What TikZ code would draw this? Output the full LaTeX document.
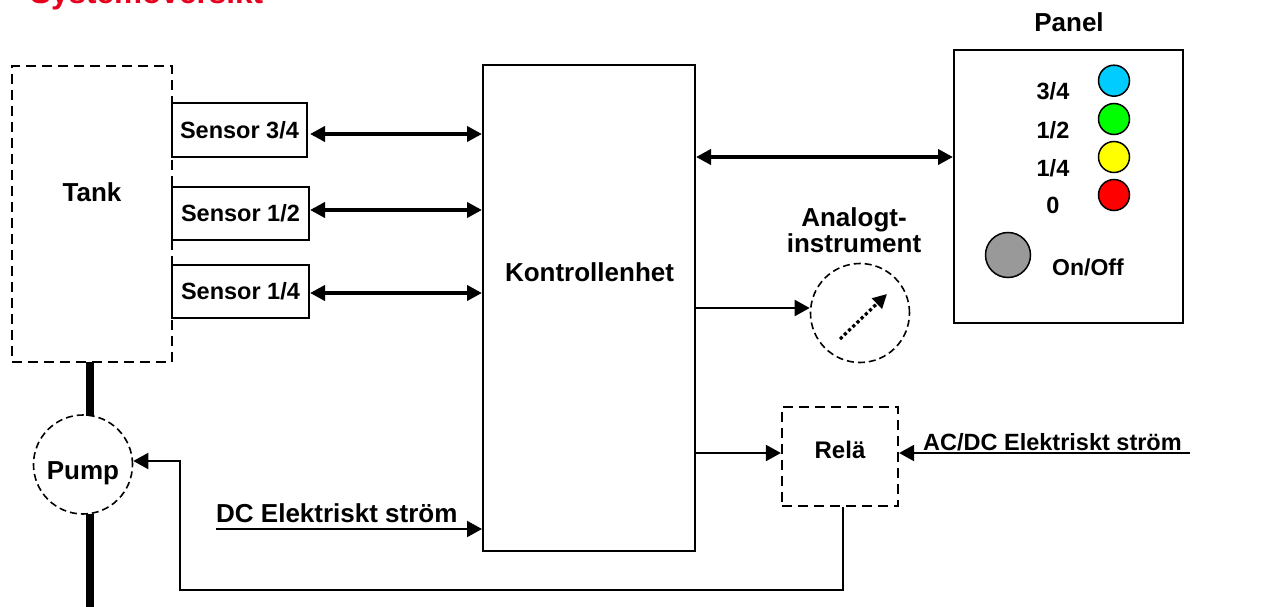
\documentclass[tikz,border=0pt]{standalone}
\usepackage{fontspec}
\setmainfont{Liberation Sans}
\usetikzlibrary{arrows.meta,calc}
\definecolor{titlered}{RGB}{230,0,30}
\definecolor{ledcyan}{RGB}{0,204,255}
\definecolor{ledgreen}{RGB}{0,255,0}
\definecolor{ledyellow}{RGB}{255,255,0}
\definecolor{ledred}{RGB}{255,0,0}
\definecolor{ledgray}{RGB}{153,153,153}
\newcommand\fntbig{\bfseries\fontsize{26}{28}\selectfont}
\newcommand\fntmid{\bfseries\fontsize{23.5}{26}\selectfont}
\begin{document}
\begin{tikzpicture}[x=1pt,y=-1pt,
  box/.style={draw, line width=2pt, inner sep=0pt},
  dbox/.style={draw, line width=2.2pt, dash pattern=on 10pt off 6pt, inner sep=0pt},
  dcirc/.style={draw, circle, line width=1.6pt, dash pattern=on 7pt off 4pt, inner sep=0pt},
  txt/.style={inner sep=0pt, anchor=base, font=\fntbig},
  led/.style={draw, circle, line width=1.5pt, minimum size=31pt, inner sep=0pt},
  dblarrow/.style={line width=3.8pt, {Triangle[length=15pt,width=15pt]}-{Triangle[length=15pt,width=15pt]}},
  onearrow/.style={line width=2pt, -{Triangle[length=15pt,width=16pt]}},
  pipe/.style={line width=8pt},
]
\useasboundingbox (0,0) rectangle (1267,607);

% title (cut at top)
\node[txt, anchor=base west, text=titlered, font=\bfseries\fontsize{31.5}{34}\selectfont] (title) at (30,4) {Systemöversikt};

% tank and sensors
\node[box, minimum width=135pt, minimum height=54pt, font=\fntmid] (s34) at (239.5,130) {Sensor 3/4};
\node[box, minimum width=137pt, minimum height=53pt, font=\fntmid] (s12) at (240.5,213.5) {Sensor 1/2};
\node[box, minimum width=137pt, minimum height=53pt, font=\fntmid] (s14) at (240.5,291.5) {Sensor 1/4};
\node[dbox, minimum width=160pt, minimum height=296pt] (tank) at (92,214) {};
\node[txt] (tanklbl) at (92,201) {Tank};

% controller
\node[box, minimum width=212pt, minimum height=486pt] (ctrl) at (589,308) {};
\node[txt] (ctrllbl) at (589.5,281) {Kontrollenhet};

% sensor arrows
\draw[dblarrow] ([xshift=2pt]s34.east |- 0,134) -- (ctrl.west |- 0,134);
\draw[dblarrow] (s12.east |- 0,210) -- (ctrl.west |- 0,210);
\draw[dblarrow] (s14.east |- 0,293) -- (ctrl.west |- 0,293);

% panel
\node[box, minimum width=229pt, minimum height=273pt] (panel) at (1068.5,186.5) {};
\node[txt] (paneltitle) at (1069,32) {Panel};
\node[led, fill=ledcyan] (l34) at (1114,80.7) {};
\node[led, fill=ledgreen] (l12) at (1114,119) {};
\node[led, fill=ledyellow] (l14) at (1114,157) {};
\node[led, fill=ledred] (l0) at (1114,195) {};
\node[txt, font=\fntmid] (t34) at (1053,100) {3/4};
\node[txt, font=\fntmid] (t12) at (1053,138.3) {1/2};
\node[txt, font=\fntmid] (t14) at (1053,176.7) {1/4};
\node[txt, font=\fntmid] (t0) at (1053,213.3) {0};
\node[led, minimum size=45pt, fill=ledgray] (onoff) at (1008,255) {};
\node[txt, font=\bfseries\fontsize{23}{26}\selectfont] (onofflbl) at (1088,275) {On/Off};
\draw[dblarrow] (ctrl.east |- 0,157) -- (panel.west |- 0,157);

% analog instrument
\node[dcirc, minimum size=99pt] (inst) at (860,313) {};
\node[txt] (instl1) at (854,226) {Analogt-};
\node[txt] (instl2) at (854,252.7) {instrument};
\draw[line width=3.2pt, dash pattern=on 3.2pt off 2.6pt, -{Triangle[length=14pt,width=14pt]}]
  ($(inst.center)+(-20,26)$) -- ($(inst.center)+(27,-19)$);
\draw[onearrow] (ctrl.east) -- (ctrl.east -| inst.west);

% relay
\node[dbox, minimum width=116pt, minimum height=99pt] (relay) at (840,456.5) {};
\node[txt, font=\bfseries\fontsize{24}{26}\selectfont] (relaylbl) at (840,458) {Relä};
\draw[onearrow] (ctrl.east |- 0,453) -- (relay.west |- 0,453);
\coordinate (acin) at (1190,453);
\draw[onearrow] (acin) -- (relay.east |- acin);
\node[txt, anchor=base west, font=\fntmid] (aclbl) at (923,450.5) {AC/DC Elektriskt ström};

% pump
\node[dcirc, minimum size=99pt] (pump) at (83,464.5) {};
\node[txt] (pumplbl) at (83,479) {Pump};
\coordinate (pA) at (89.5,362);
\coordinate (pB) at (89.5,415.5);
\coordinate (pC) at (89.5,513.5);
\coordinate (pD) at (89.5,607);
\draw[pipe] (pA) -- (pB);
\draw[pipe] (pC) -- (pD);

% relay to pump
\coordinate (c1) at (843,590);
\coordinate (c2) at (180,590);
\coordinate (c3) at (180,461);
\draw[onearrow] ([xshift=3pt]relay.south) -- (c1) -- (c2) -- (c3) -- (c3 -| pump.east);

% DC supply
\coordinate (dcin) at (216,529);
\draw[onearrow] (dcin) -- (ctrl.west |- dcin);
\node[txt, anchor=base west] (dclbl) at (216,522.7) {DC Elektriskt ström};
\end{tikzpicture}
\end{document}
